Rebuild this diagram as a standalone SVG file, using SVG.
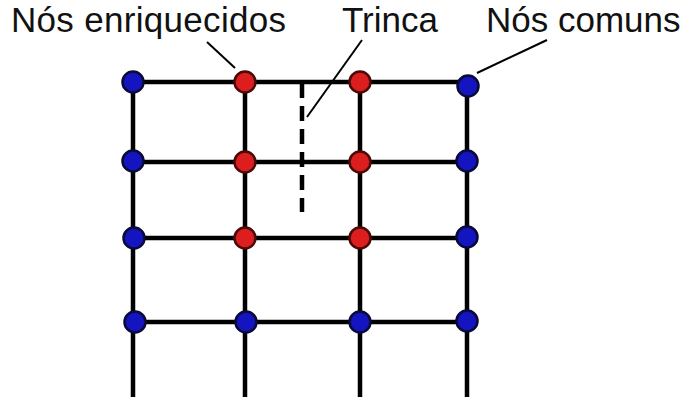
<svg xmlns="http://www.w3.org/2000/svg" width="687" height="401" viewBox="0 0 687 401">
<style>
.lbl{font-family:"Liberation Sans",Arial,sans-serif;font-size:35px;fill:#111}
.bar{stroke:#000;stroke-width:4.5;fill:none}
.lead{stroke:#000;stroke-width:2;fill:none}
.crack{stroke:#000;stroke-width:4.5;stroke-dasharray:15 8;fill:none}
.blue{fill:#1414c0;stroke:#0a0a38;stroke-width:2.5}
.red{fill:#dc1e1e;stroke:#4a0a0a;stroke-width:2.5}
</style>
<rect width="687" height="401" fill="#fff"/>
<g id="connectors">
  <path class="bar" d="M133 82H468M133 162H467M133 238H467M133 322H467"/>
  <path class="bar" d="M133 82V397M245 82V397M360 82V397M467 86V397"/>
  <path class="crack" d="M302 83V212"/>
  <path class="lead" d="M207 42L235 68"/>
  <path class="lead" d="M362 40L307 117"/>
  <path class="lead" d="M547 40L477 73"/>
</g>
<g id="labels">
  <text id="lbl-enriq" class="lbl" x="11" y="32" textLength="275">Nós enriquecidos</text>
  <text id="lbl-trinca" class="lbl" x="342" y="32">Trinca</text>
  <text id="lbl-comuns" class="lbl" x="486" y="32">Nós comuns</text>
</g>
<g id="n11"><circle class="blue" cx="133" cy="82" r="10.5"/></g>
<g id="n12"><circle class="red" cx="245" cy="82" r="10.5"/></g>
<g id="n13"><circle class="red" cx="360" cy="82" r="10.5"/></g>
<g id="n14"><circle class="blue" cx="468" cy="86" r="10.5"/></g>
<g id="n21"><circle class="blue" cx="133" cy="161" r="10.5"/></g>
<g id="n22"><circle class="red" cx="245" cy="162" r="10.5"/></g>
<g id="n23"><circle class="red" cx="360" cy="162" r="10.5"/></g>
<g id="n24"><circle class="blue" cx="467" cy="161" r="10.5"/></g>
<g id="n31"><circle class="blue" cx="134" cy="238" r="10.5"/></g>
<g id="n32"><circle class="red" cx="245" cy="238" r="10.5"/></g>
<g id="n33"><circle class="red" cx="360" cy="238" r="10.5"/></g>
<g id="n34"><circle class="blue" cx="467" cy="237" r="10.5"/></g>
<g id="n41"><circle class="blue" cx="135" cy="322" r="10.5"/></g>
<g id="n42"><circle class="blue" cx="246" cy="322" r="10.5"/></g>
<g id="n43"><circle class="blue" cx="360" cy="322" r="10.5"/></g>
<g id="n44"><circle class="blue" cx="467" cy="321" r="10.5"/></g>
</svg>
